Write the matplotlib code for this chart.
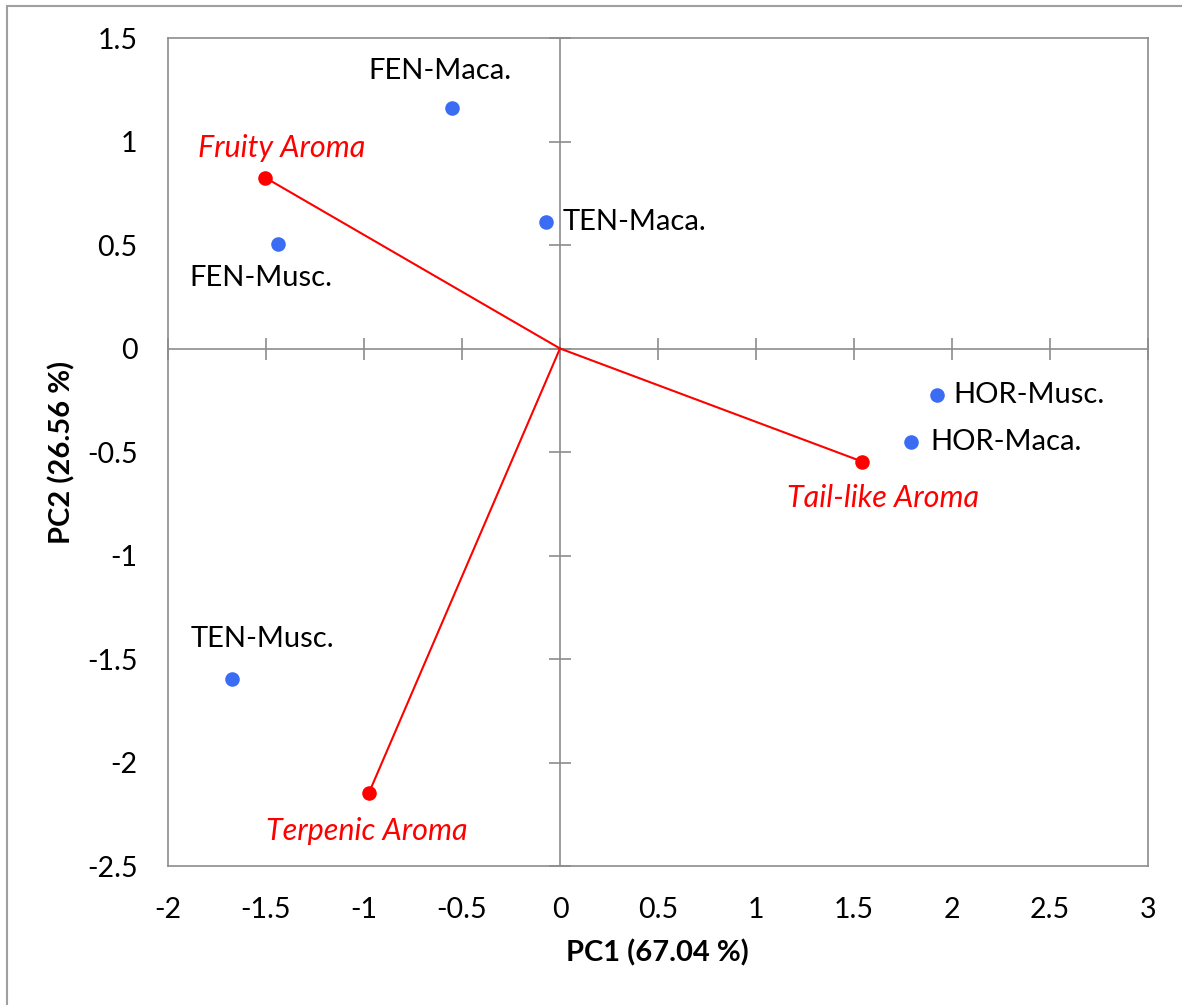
import matplotlib
matplotlib.use("Agg")
import matplotlib.pyplot as plt
from matplotlib.patches import Rectangle

plt.rcParams['font.family'] = ['Lato', 'DejaVu Sans']

# Sample scores (blue)
sample_names = ["FEN-Maca.", "TEN-Maca.", "FEN-Musc.", "HOR-Musc.", "HOR-Maca.", "TEN-Musc."]
sample_pc1 = [-0.551, -0.071, -1.439, 1.923, 1.791, -1.673]
sample_pc2 = [1.164, 0.609, 0.507, -0.227, -0.454, -1.599]
# label offsets in points (dx, dy) and alignment
sample_label_pos = [(-9, 26, 'center'), (12, 0, 'left'), (-12, -25, 'center'),
                    (12, 0, 'left'), (14, 0, 'left'), (22, 29, 'center')]

# Loadings (red)
var_names = ["Fruity Aroma", "Tail-like Aroma", "Terpenic Aroma"]
var_pc1 = [-1.505, 1.541, -0.974]
var_pc2 = [0.826, -0.546, -2.145]
var_label_pos = [(12, 21, 'center'), (15, -26, 'center'), (-2, -28, 'center')]

x_ticks = [-2, -1.5, -1, -0.5, 0, 0.5, 1, 1.5, 2, 2.5, 3]
y_ticks = [-2.5, -2, -1.5, -1, -0.5, 0, 0.5, 1, 1.5]
x_label = "PC1 (67.04 %)"
y_label = "PC2 (26.56 %)"

W, H = 1182, 1005
fig = plt.figure(figsize=(W / 100, H / 100), dpi=100)
pos = [168 / W, 1 - 866 / H, (1148 - 168) / W, (866 - 38) / H]
gray = '#8c8c8c'

# Axes crossing at zero with cross tick marks
ax2 = fig.add_axes(pos)
ax2.set_xlim(-2, 3)
ax2.set_ylim(-2.5, 1.5)
ax2.patch.set_visible(False)
for s in ['top', 'right']:
    ax2.spines[s].set_visible(False)
ax2.spines['left'].set_position(('data', 0))
ax2.spines['bottom'].set_position(('data', 0))
for s in ['left', 'bottom']:
    ax2.spines[s].set_color(gray)
    ax2.spines[s].set_linewidth(1.2)
ax2.set_xticks(x_ticks)
ax2.set_yticks(y_ticks)
ax2.tick_params(direction='inout', length=16, width=1.2, color=gray,
                labelbottom=False, labelleft=False)

ax = fig.add_axes(pos, sharex=ax2, sharey=ax2)
ax.patch.set_visible(False)
for s in ax.spines.values():
    s.set_color(gray)
    s.set_linewidth(1.2)
ax.set_xticks(x_ticks)
ax.set_yticks(y_ticks)
ax.set_xticklabels([f"{v:g}" for v in x_ticks])
ax.set_yticklabels([f"{v:g}" for v in y_ticks])
ax.tick_params(length=0, labelsize=20.5)
ax.tick_params(axis='x', pad=22)
ax.tick_params(axis='y', pad=22)

ax.set_xlabel(x_label, fontsize=21, fontweight='bold', va='center')
ax.set_ylabel(y_label, fontsize=21, fontweight='bold', va='center')
ax.xaxis.set_label_coords((657 - 168) / 980, (866 - 953) / 828)
ax.yaxis.set_label_coords((62 - 168) / 980, (866 - 452) / 828)

# loading vectors
for x, y in zip(var_pc1, var_pc2):
    ax.plot([0, x], [0, y], color='#ff0000', lw=1.5, zorder=3)
ax.scatter(var_pc1, var_pc2, s=110, color='#ff0000', zorder=4, linewidths=0)
for name, x, y, (dx, dy, ha) in zip(var_names, var_pc1, var_pc2, var_label_pos):
    ax.annotate(name, (x, y), xytext=(dx, dy), textcoords='offset points',
                ha=ha, va='center', color='#ff0000', fontsize=22, style='italic')

ax.scatter(sample_pc1, sample_pc2, s=110, color='#3a6cf4', zorder=4, linewidths=0)
for name, x, y, (dx, dy, ha) in zip(sample_names, sample_pc1, sample_pc2, sample_label_pos):
    ax.annotate(name, (x, y), xytext=(dx, dy), textcoords='offset points',
                ha=ha, va='center', color='black', fontsize=21)

fig.patches.append(Rectangle((7 / W, -0.1), 1.2, 1 - 6 / H + 0.1,
                             transform=fig.transFigure, fill=False,
                             edgecolor='#a0a0a0', linewidth=1.5))

fig.savefig('out.png', dpi=100)
